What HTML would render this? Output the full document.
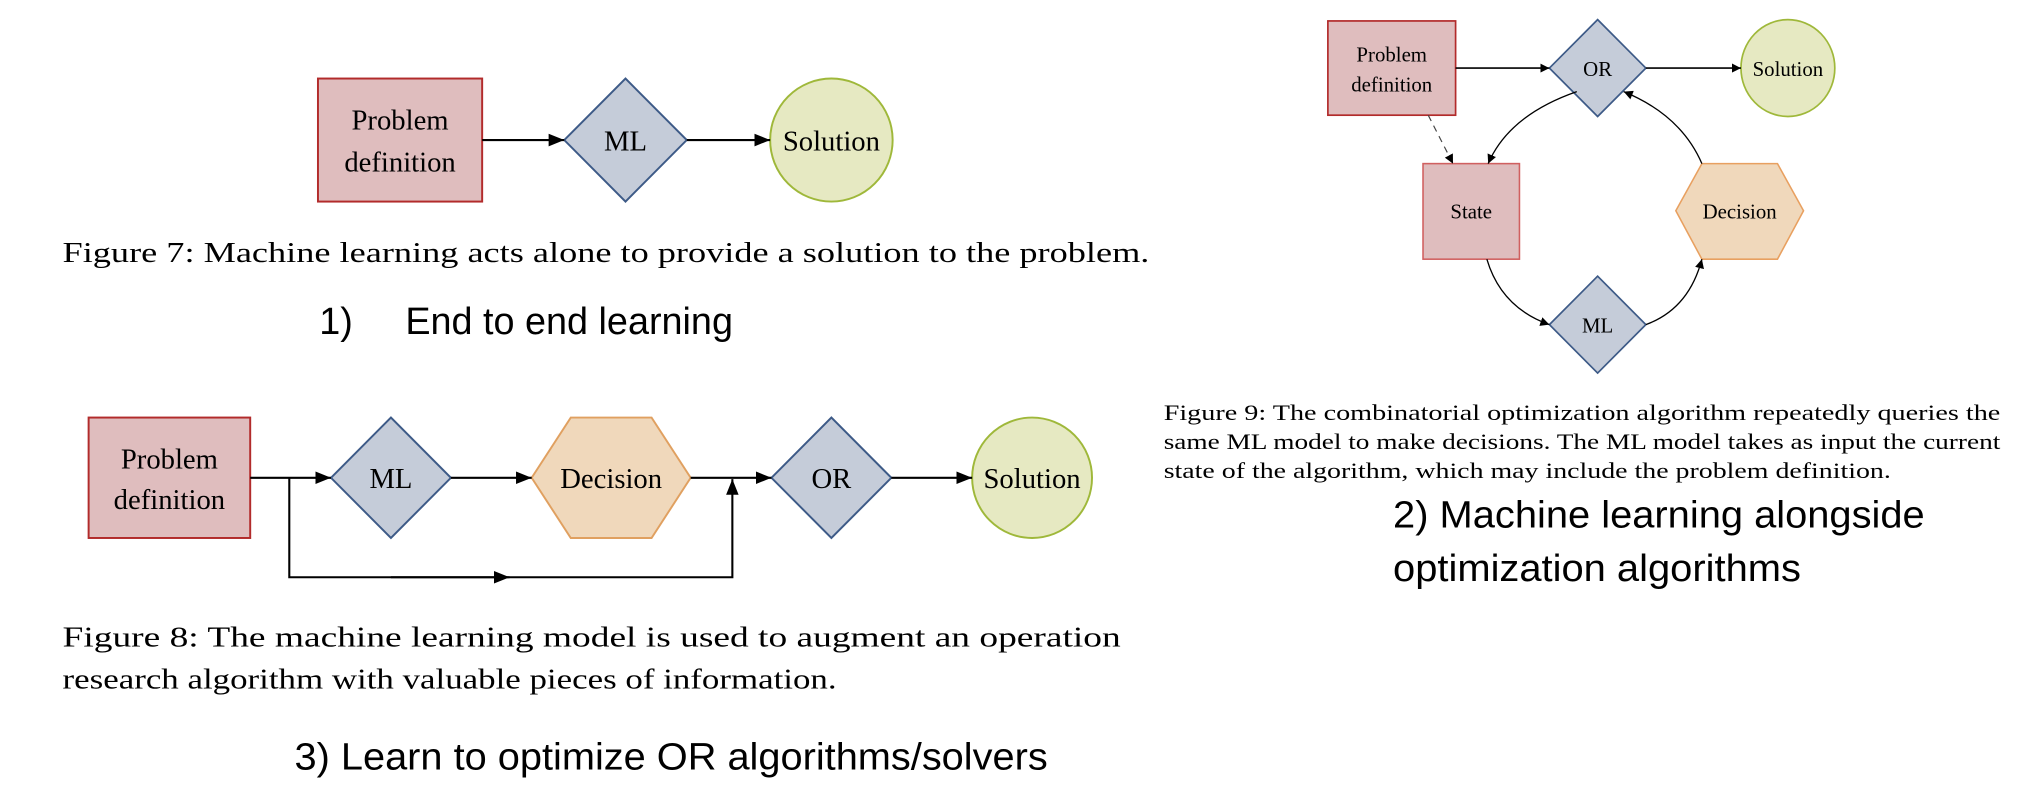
<!DOCTYPE html>
<html><head><meta charset="utf-8"><style>html,body{margin:0;padding:0;background:#fff;}svg{display:block;}</style></head>
<body>
<svg width="2042" height="802" viewBox="0 0 1567 612.7" preserveAspectRatio="none" xmlns="http://www.w3.org/2000/svg">
<defs>
<marker id="a" viewBox="0 0 10 10" refX="10" refY="5" markerWidth="7" markerHeight="7" markerUnits="userSpaceOnUse" orient="auto"><path d="M0,0 L10,5 L0,10 z" fill="#000"/></marker>
<marker id="b" viewBox="0 0 10 10" refX="10" refY="5" markerWidth="12" markerHeight="12" markerUnits="userSpaceOnUse" orient="auto"><path d="M0,1 L10,5 L0,9 z" fill="#000"/></marker>
</defs>
<g font-family="Liberation Serif, serif" fill="#000">
<!-- Fig 7 -->
<rect x="244" y="60" width="126" height="94" fill="#dfbdbe" stroke="#b22b2b" stroke-width="1.5"/>
<text x="307" y="99" font-size="22" text-anchor="middle">Problem</text>
<text x="307" y="131" font-size="22" text-anchor="middle">definition</text>
<polygon points="433,107 480,60 527,107 480,154" fill="#c5ccd9" stroke="#3d5a87" stroke-width="1.5"/>
<text x="480" y="115" font-size="22" text-anchor="middle">ML</text>
<circle cx="638" cy="107" r="47" fill="#e6e9c2" stroke="#9fb83a" stroke-width="1.5"/>
<text x="638" y="115" font-size="22" text-anchor="middle">Solution</text>
<line x1="370" y1="107" x2="433" y2="107" stroke="#000" stroke-width="1.6" marker-end="url(#b)"/>
<line x1="527" y1="107" x2="591" y2="107" stroke="#000" stroke-width="1.6" marker-end="url(#b)"/>
<text x="48" y="200" font-size="22" textLength="834" lengthAdjust="spacingAndGlyphs">Figure 7: Machine learning acts alone to provide a solution to the problem.</text>
<text x="245" y="255" font-size="29" font-family="Liberation Sans, sans-serif" xml:space="preserve">1)     End to end learning</text>

<!-- Fig 8 -->
<rect x="68" y="319" width="124" height="92" fill="#dfbdbe" stroke="#b22b2b" stroke-width="1.5"/>
<text x="130" y="358" font-size="22" text-anchor="middle">Problem</text>
<text x="130" y="389" font-size="22" text-anchor="middle">definition</text>
<polygon points="254,365 300,319 346,365 300,411" fill="#c5ccd9" stroke="#3d5a87" stroke-width="1.5"/>
<text x="300" y="373" font-size="22" text-anchor="middle">ML</text>
<polygon points="408,365 438,319 500,319 530,365 500,411 438,411" fill="#f0d8bb" stroke="#e0a060" stroke-width="1.5"/>
<text x="469" y="373" font-size="22" text-anchor="middle">Decision</text>
<polygon points="592,365 638,319 684,365 638,411" fill="#c5ccd9" stroke="#3d5a87" stroke-width="1.5"/>
<text x="638" y="373" font-size="22" text-anchor="middle">OR</text>
<circle cx="792" cy="365" r="46" fill="#e6e9c2" stroke="#9fb83a" stroke-width="1.5"/>
<text x="792" y="373" font-size="22" text-anchor="middle">Solution</text>
<line x1="192" y1="365" x2="254" y2="365" stroke="#000" stroke-width="1.6" marker-end="url(#b)"/>
<line x1="346" y1="365" x2="408" y2="365" stroke="#000" stroke-width="1.6" marker-end="url(#b)"/>
<line x1="530" y1="365" x2="592" y2="365" stroke="#000" stroke-width="1.6" marker-end="url(#b)"/>
<line x1="684" y1="365" x2="746" y2="365" stroke="#000" stroke-width="1.6" marker-end="url(#b)"/>
<polyline points="222,365 222,441 562,441 562,366" fill="none" stroke="#000" stroke-width="1.6" marker-end="url(#b)"/>
<line x1="300" y1="441" x2="391" y2="441" stroke="#000" stroke-width="1.6" marker-end="url(#b)"/>
<text x="48" y="494" font-size="22" textLength="812" lengthAdjust="spacingAndGlyphs">Figure 8:  The machine learning model is used to augment an operation</text>
<text x="48" y="526" font-size="22" textLength="594" lengthAdjust="spacingAndGlyphs">research algorithm with valuable pieces of information.</text>
<text x="226" y="588" font-size="29" font-family="Liberation Sans, sans-serif" textLength="578" lengthAdjust="spacingAndGlyphs">3) Learn to optimize OR algorithms/solvers</text>

<!-- Fig 9 -->
<rect x="1019" y="16" width="98" height="72" fill="#dfbdbe" stroke="#b22b2b" stroke-width="1.3"/>
<text x="1068" y="47" font-size="16" text-anchor="middle">Problem</text>
<text x="1068" y="70" font-size="16" text-anchor="middle">definition</text>
<polygon points="1189,52 1226,15 1263,52 1226,89" fill="#c5ccd9" stroke="#3d5a87" stroke-width="1.3"/>
<text x="1226" y="58" font-size="16" text-anchor="middle">OR</text>
<ellipse cx="1372" cy="52" rx="36" ry="37" fill="#e6e9c2" stroke="#9fb83a" stroke-width="1.3"/>
<text x="1372" y="58" font-size="16" text-anchor="middle">Solution</text>
<rect x="1092" y="125" width="74" height="73" fill="#dfbdbe" stroke="#d06060" stroke-width="1.2"/>
<text x="1129" y="167" font-size="16" text-anchor="middle">State</text>
<polygon points="1286,161 1306,125 1364,125 1384,161 1364,198 1306,198" fill="#f0d8bb" stroke="#e8a060" stroke-width="1.2"/>
<text x="1335" y="167" font-size="16" text-anchor="middle">Decision</text>
<polygon points="1189,248 1226,211 1263,248 1226,285" fill="#c5ccd9" stroke="#3d5a87" stroke-width="1.3"/>
<text x="1226" y="254" font-size="16" text-anchor="middle">ML</text>
<line x1="1117" y1="52" x2="1189" y2="52" stroke="#000" stroke-width="1.2" marker-end="url(#a)"/>
<line x1="1263" y1="52" x2="1336" y2="52" stroke="#000" stroke-width="1.2" marker-end="url(#a)"/>
<path d="M1210,70 Q1158,88 1142,125" fill="none" stroke="#000" stroke-width="1" marker-end="url(#a)"/>
<path d="M1141,198 Q1152,235 1189,248" fill="none" stroke="#000" stroke-width="1" marker-end="url(#a)"/>
<path d="M1263,248 Q1296,236 1306,198" fill="none" stroke="#000" stroke-width="1" marker-end="url(#a)"/>
<path d="M1306,125 Q1290,88 1246,70" fill="none" stroke="#000" stroke-width="1" marker-end="url(#a)"/>
<line x1="1096" y1="88" x2="1115" y2="125" stroke="#444" stroke-width="0.9" stroke-dasharray="5,4" marker-end="url(#a)"/>
<text x="893" y="321" font-size="17" textLength="642" lengthAdjust="spacingAndGlyphs">Figure 9: The combinatorial optimization algorithm repeatedly queries the</text>
<text x="893" y="343" font-size="17" textLength="642" lengthAdjust="spacingAndGlyphs">same ML model to make decisions. The ML model takes as input the current</text>
<text x="893" y="365" font-size="17" textLength="558" lengthAdjust="spacingAndGlyphs">state of the algorithm, which may include the problem definition.</text>
<text x="1069" y="403" font-size="29" font-family="Liberation Sans, sans-serif" textLength="408" lengthAdjust="spacingAndGlyphs">2) Machine learning alongside</text>
<text x="1069" y="444" font-size="29" font-family="Liberation Sans, sans-serif" textLength="313" lengthAdjust="spacingAndGlyphs">optimization algorithms</text>
</g>
</svg>
</body></html>
